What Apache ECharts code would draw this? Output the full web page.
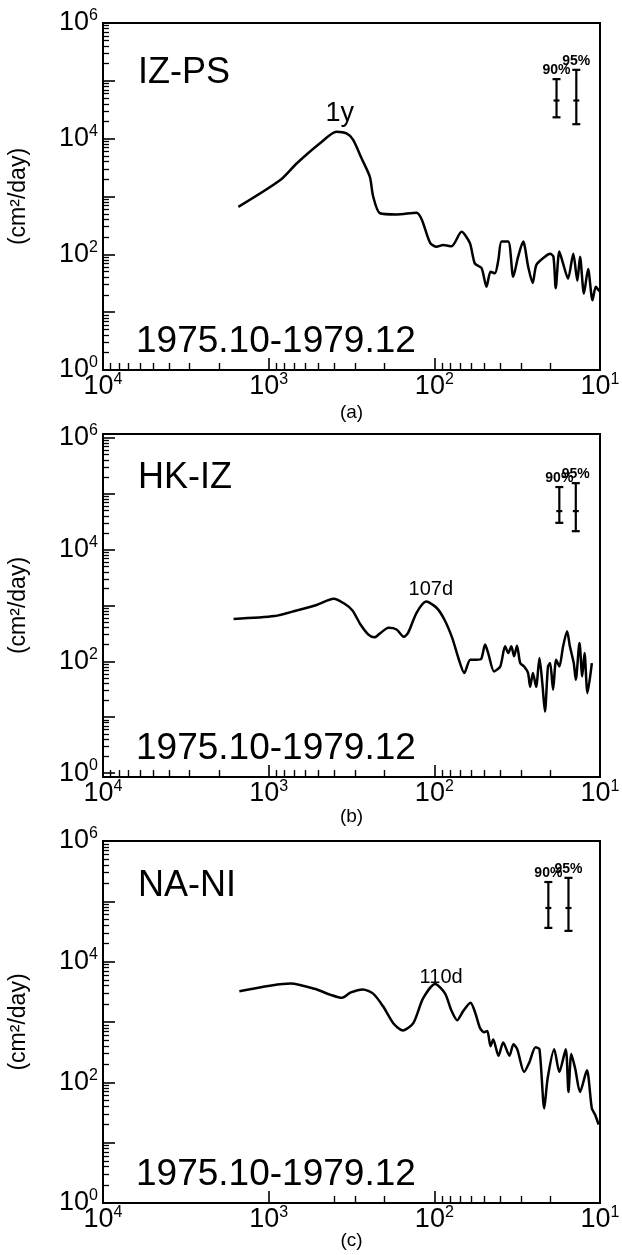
<!DOCTYPE html>
<html><head><meta charset="utf-8">
<script src="https://cdn.jsdelivr.net/npm/echarts@6/dist/echarts.min.js"></script>
<style>html,body{margin:0;padding:0;background:#fff}#c{width:622px;height:1255px}</style>
</head><body><div id="c"></div>
<script>
// ---------------- data ----------------
const panelNames = ['IZ-PS', 'HK-IZ', 'NA-NI'];
const panelCaptions = ['(a)', '(b)', '(c)'];
const dateRanges = ['1975.10-1979.12', '1975.10-1979.12', '1975.10-1979.12'];
const yAxisTitle = '(cm\u00B2/day)';
const xTickLabels = [10, 100, 1000, 10000];
const yTickLabels = [1, 100, 10000, 1000000];

// period (days) and power spectral density (cm^2/day)
const periodA = [1524, 855, 678, 490, 389, 339, 309, 275, 245, 234, 213, 169, 128, 119, 106, 97, 88.5, 78.7, 68.5, 61.1, 56.9, 51.9, 48.4, 45.8, 43.1, 41.1, 39.3, 35.8, 33.4, 31.2, 29.1, 27.1, 25.5, 24.2, 21.5, 20.0, 19.1, 18.5, 17.6, 16.7, 15.6, 14.5, 13.7, 13.2, 12.5, 11.8, 11.1, 10.6, 10.1];
const powerA  = [661, 1905, 3715, 8318, 13183, 12303, 9550, 4571, 2188, 1000, 513, 490, 525, 398, 158, 135, 145, 138, 245, 158, 69, 58, 27.5, 50, 47, 79, 166, 166, 41, 91, 166, 60, 32, 66, 91, 102, 91, 26, 112, 69, 38, 102, 35, 91, 21, 56, 16, 27.5, 23];

const periodB = [1629, 920, 678, 514, 405, 348, 312, 279, 250, 230, 211, 189, 169, 153, 144, 128, 112, 97, 87, 78, 71.6, 65.9, 60.7, 55.8, 52.2, 49.4, 47.3, 43.6, 40.0, 37.4, 35.8, 34.3, 33.0, 31.7, 30.3, 28.7, 27.2, 26.4, 25.4, 24.3, 23.2, 22.3, 21.5, 20.6, 20.0, 19.2, 18.4, 17.6, 16.7, 15.8, 15.2, 14.4, 14.0, 13.3, 12.8, 12.4, 11.9, 11.2];
const powerB  = [575, 646, 813, 1023, 1318, 1072, 813, 457, 302, 269, 324, 398, 372, 275, 324, 741, 1175, 912, 562, 263, 115, 62, 107, 107, 110, 200, 141, 66, 81, 186, 141, 186, 123, 191, 93, 81, 62, 35, 62, 35, 115, 41, 12.6, 81, 93, 31, 107, 81, 186, 347, 186, 93, 47, 214, 54, 141, 27, 93];

const periodC = [1503, 736, 527, 422, 361, 319, 270, 234, 204, 177, 155, 134, 117, 98.9, 86.1, 79.1, 72.8, 67.0, 60.5, 56.6, 53.0, 50.1, 47.9, 45.8, 44.1, 41.0, 38.4, 35.2, 33.3, 31.6, 28.7, 26.7, 24.5, 23.2, 21.7, 20.7, 18.9, 17.6, 16.1, 15.5, 14.9, 14.1, 13.2, 12.0, 11.2, 10.7, 10.2];
const powerC  = [3236, 4365, 3548, 2818, 2512, 3090, 3467, 2951, 1820, 955, 724, 955, 2455, 4266, 2951, 1585, 1072, 1514, 2089, 1413, 794, 676, 708, 398, 513, 275, 457, 275, 427, 355, 148, 214, 380, 355, 37, 117, 355, 148, 355, 69, 295, 166, 69, 158, 37, 29, 20];

// minor x-tick positions of panel (c) (sparser in the original)
const xMinorTicksC = [20, 30, 40, 50, 60, 70, 80, 90, 200, 300, 400];

// peak annotations
const peakLabels = ['1y', '107d', '110d'];
const peakLabelPeriod = [372, 105, 91];
const peakLabelPower = [26900, 1900, 5500];

// confidence-interval bars: [90%, 95%]
const confLevels = ['90%', '95%'];
const errPeriodA = [18.3, 13.9];
const errLowA = [23400, 17800];
const errMidA = [45700, 45700];
const errHighA = [107000, 155000];
const errPeriodB = [17.6, 14.0];
const errLowB = [30200, 21400];
const errMidB = [49000, 49000];
const errHighB = [132000, 155000];
const errPeriodC = [20.5, 15.5];
const errLowC = [36300, 32400];
const errMidC = [77600, 77600];
const errHighC = [209000, 245000];

// ---------------- chart ----------------
const FONT = "'Liberation Sans', Arial, Helvetica, sans-serif";
const periods = [periodA, periodB, periodC];
const powers = [powerA, powerB, powerC];
const errs = [
  [errPeriodA, errLowA, errMidA, errHighA],
  [errPeriodB, errLowB, errMidB, errHighB],
  [errPeriodC, errLowC, errMidC, errHighC]
];
const grids = [
  {left: 103, width: 497, top: 23, height: 347},
  {left: 103, width: 497, top: 434, height: 343},
  {left: 103, width: 497, top: 841, height: 362}
];
const captionGaps = [33, 30, 28];
const yRanges = [[1, 1e6], [Math.pow(10, -0.07), Math.pow(10, 6.07)], [1, 1e6]];
const X_MIN = 10, X_MAX = 10000;

function decades(lo, hi) { const r = []; for (let e = lo; e <= hi; e++) r.push(Math.pow(10, e)); return r; }
function minors(lo, hi) { const r = []; for (let e = lo; e < hi; e++) for (let m = 2; m <= 9; m++) r.push(m * Math.pow(10, e)); return r; }
function nudge(vals, min, max) {
  return vals.filter(v => v >= min * 0.999999 && v <= max * 1.000001)
    .map(v => v >= max ? max * (1 - 1e-9) : (v <= min ? min * (1 + 1e-9) : v));
}
const xMinorSets = [minors(1, 4), minors(1, 4), xMinorTicksC];
const powFmt = v => '{b|10}{s|' + Math.round(Math.log10(v)) + '}';
const labelRich = {
  b: {fontSize: 27, fontFamily: FONT, color: '#000', lineHeight: 30},
  s: {fontSize: 16, fontFamily: FONT, color: '#000', lineHeight: 16, verticalAlign: 'top'}
};

const option = {
  animation: false,
  backgroundColor: '#fff',
  grid: grids.map(g => Object.assign({show: true, borderColor: '#000', borderWidth: 2, backgroundColor: 'transparent', outerBoundsMode: 'none', containLabel: false}, g)),
  xAxis: [], yAxis: [], series: [],
  graphic: []
};

for (let i = 0; i < 3; i++) {
  const [ymin, ymax] = yRanges[i];
  const baseX = {gridIndex: i, type: 'log', logBase: 10, min: X_MIN, max: X_MAX, inverse: true, position: 'bottom',
    splitLine: {show: false}, minorTick: {show: false}, minorSplitLine: {show: false}};
  option.xAxis.push(Object.assign({}, baseX, {
    axisLine: {show: true, onZero: false, lineStyle: {color: '#000', width: 2}},
    axisTick: {show: true, inside: true, length: 12, lineStyle: {color: '#000', width: 1.6}, customValues: nudge(decades(1, 4), X_MIN, X_MAX)},
    axisLabel: {show: true, margin: 2, customValues: nudge(xTickLabels, X_MIN, X_MAX), formatter: powFmt, rich: labelRich, hideOverlap: false, showMinLabel: true, showMaxLabel: true},
    name: panelCaptions[i], nameLocation: 'middle', nameGap: captionGaps[i], nameMoveOverlap: false,
    nameTextStyle: {fontFamily: FONT, fontSize: 19, color: '#000'}
  }));
  option.xAxis.push(Object.assign({}, baseX, {
    axisLine: {show: false, onZero: false},
    axisTick: {show: true, inside: true, length: 7, lineStyle: {color: '#000', width: 1.4}, customValues: nudge(xMinorSets[i], X_MIN, X_MAX)},
    axisLabel: {show: false}
  }));
  const baseY = {gridIndex: i, type: 'log', logBase: 10, min: ymin, max: ymax, position: 'left',
    splitLine: {show: false}, minorTick: {show: false}, minorSplitLine: {show: false}};
  option.yAxis.push(Object.assign({}, baseY, {
    axisLine: {show: true, onZero: false, lineStyle: {color: '#000', width: 2}},
    axisTick: {show: true, inside: true, length: 12, lineStyle: {color: '#000', width: 1.6}, customValues: nudge(decades(0, 6), ymin, ymax)},
    axisLabel: {show: true, margin: 5, customValues: nudge(yTickLabels, ymin, ymax), formatter: powFmt, rich: labelRich, hideOverlap: false, showMinLabel: true, showMaxLabel: true},
    name: yAxisTitle, nameLocation: 'middle', nameGap: 73, nameRotate: 90, nameMoveOverlap: false,
    nameTextStyle: {fontFamily: FONT, fontSize: 23, color: '#000'}
  }));
  option.yAxis.push(Object.assign({}, baseY, {
    axisLine: {show: false, onZero: false},
    axisTick: {show: true, inside: true, length: 6, lineStyle: {color: '#000', width: 1.3}, customValues: nudge(minors(0, 6), ymin, ymax)},
    axisLabel: {show: false}
  }));

  // spectrum line
  option.series.push({
    type: 'line', xAxisIndex: 2 * i, yAxisIndex: 2 * i,
    data: periods[i].map((p, k) => [p, powers[i][k]]),
    showSymbol: false, symbol: 'none', smooth: 0.25,
    lineStyle: {color: '#000', width: 2.5}, z: 5
  });

  // confidence bars
  const [ep, el, em, eh] = errs[i];
  option.series.push({
    type: 'custom', xAxisIndex: 2 * i, yAxisIndex: 2 * i,
    data: ep.map((p, k) => [p, el[k], em[k], eh[k], k]),
    encode: {x: 0, y: [1, 2, 3]},
    renderItem: function (params, api) {
      const lo = api.coord([api.value(0), api.value(1)]);
      const mid = api.coord([api.value(0), api.value(2)]);
      const hi = api.coord([api.value(0), api.value(3)]);
      const st = {stroke: '#000', lineWidth: 2.2};
      const c = 4;
      return {type: 'group', children: [
        {type: 'line', shape: {x1: lo[0], y1: lo[1], x2: hi[0], y2: hi[1]}, style: st},
        {type: 'line', shape: {x1: lo[0] - c, y1: lo[1], x2: lo[0] + c, y2: lo[1]}, style: st},
        {type: 'line', shape: {x1: hi[0] - c, y1: hi[1], x2: hi[0] + c, y2: hi[1]}, style: st},
        {type: 'line', shape: {x1: mid[0] - 3, y1: mid[1], x2: mid[0] + 3, y2: mid[1]}, style: st},
        {type: 'text', x: hi[0], y: hi[1] - 2, style: {text: confLevels[api.value(4)], font: 'bold 14px ' + FONT, fill: '#000', align: 'center', verticalAlign: 'bottom'}}
      ]};
    },
    z: 6
  });

  // peak label
  option.series.push({
    type: 'custom', xAxisIndex: 2 * i, yAxisIndex: 2 * i,
    data: [[peakLabelPeriod[i], peakLabelPower[i]]],
    encode: {x: 0, y: 1},
    renderItem: function (params, api) {
      const p = api.coord([api.value(0), api.value(1)]);
      return {type: 'text', x: p[0], y: p[1], style: {text: peakLabels[i], font: (i === 0 ? 27 : 20) + 'px ' + FONT, fill: '#000', align: 'center', verticalAlign: 'middle'}};
    },
    z: 7
  });

  const g = grids[i];
  option.graphic.push({type: 'text', left: 138, top: g.top + [52, 46, 47][i] - 20,
    style: {text: panelNames[i], font: '36px ' + FONT, fill: '#000'}});
  option.graphic.push({type: 'text', left: 136, top: g.top + g.height - 27 - 20,
    style: {text: dateRanges[i], font: '37px ' + FONT, fill: '#000'}});
}

const chart = echarts.init(document.getElementById('c'), null, {renderer: 'canvas', width: 622, height: 1255});
chart.setOption(option);
</script>
</body></html>
